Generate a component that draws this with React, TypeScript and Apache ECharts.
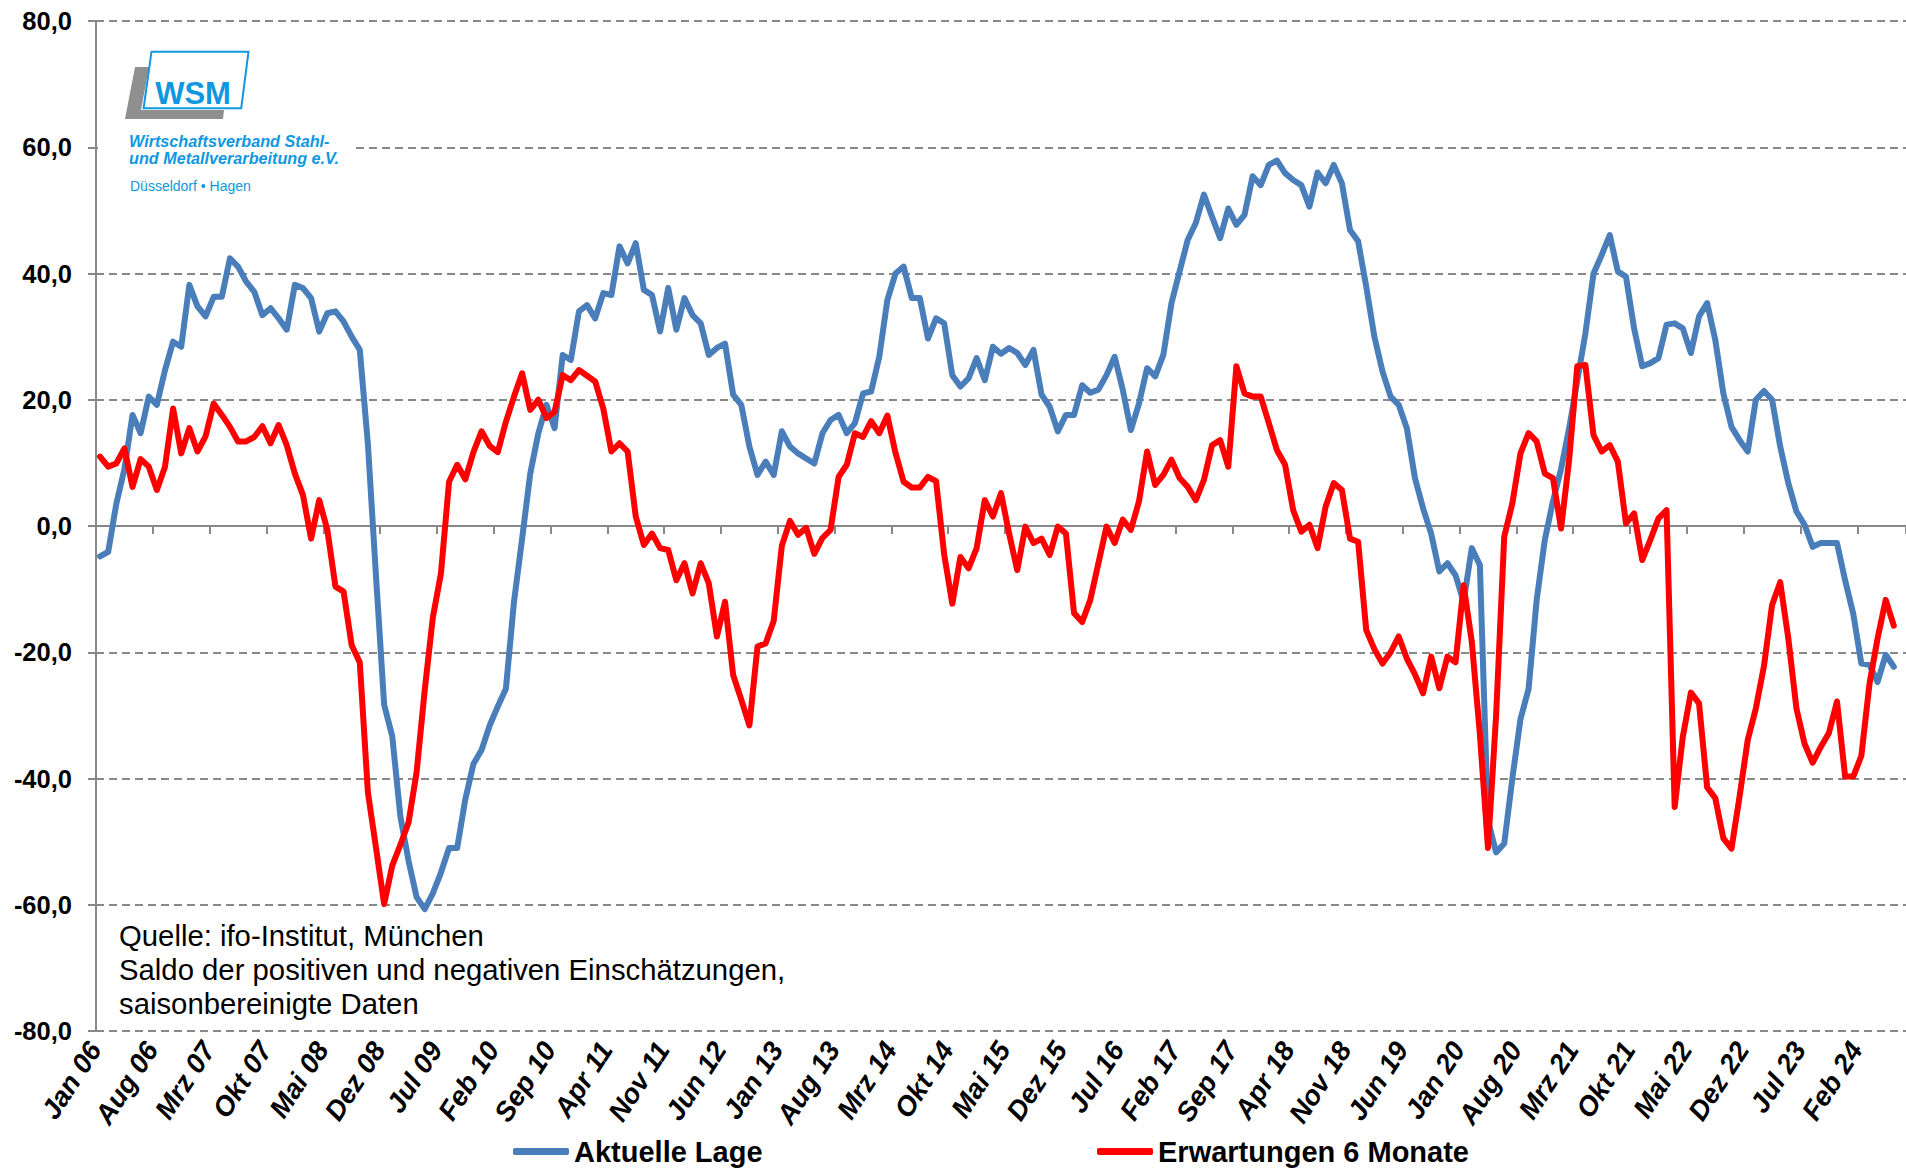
import React, { useEffect, useRef } from "react";
import * as echarts from "echarts";

// ---------- data ----------
const MONTHS = ["Jan", "Feb", "Mrz", "Apr", "Mai", "Jun", "Jul", "Aug", "Sep", "Okt", "Nov", "Dez"];
const FIRST_YEAR = 2006;
const CATEGORY_COUNT = 223;
const categories: string[] = [];
for (let i = 0; i < CATEGORY_COUNT; i++) {
  const yy = String((FIRST_YEAR + Math.floor(i / 12)) % 100).padStart(2, "0");
  categories.push(MONTHS[i % 12] + " " + yy);
}

const SERIES_NAMES = ["Aktuelle Lage", "Erwartungen 6 Monate"];

const aktuelleLage = [
  -4.8, -4.1, 3.5, 9.0, 17.6, 14.7, 20.5, 19.2, 24.7, 29.2,
  28.4, 38.2, 34.8, 33.2, 36.3, 36.3, 42.4, 41.1, 38.7, 37.1,
  33.4, 34.5, 32.9, 31.1, 38.2, 37.7, 36.1, 30.8, 33.7, 34.0,
  32.4, 30.0, 27.9, 13.0, -8.0, -28.3, -33.3, -46.0, -53.0, -58.8,
  -60.7, -58.2, -54.9, -51.0, -51.0, -43.3, -37.7, -35.5, -31.6, -28.6,
  -25.8, -12.0, -2.0, 8.3, 14.7, 19.2, 15.5, 27.1, 26.3, 34.0,
  35.0, 32.9, 36.9, 36.6, 44.3, 41.6, 44.8, 37.4, 36.6, 30.8,
  37.7, 31.1, 36.1, 33.4, 32.1, 27.1, 28.2, 28.9, 20.8, 19.2,
  12.6, 8.1, 10.2, 8.1, 15.0, 12.6, 11.5, 10.7, 9.9, 14.7,
  16.8, 17.6, 14.7, 16.3, 21.0, 21.3, 26.8, 35.8, 40.0, 41.1,
  36.1, 36.1, 29.7, 32.9, 32.1, 23.9, 22.1, 23.4, 26.6, 23.1,
  28.4, 27.3, 28.2, 27.4, 25.5, 27.9, 20.8, 18.9, 15.0, 17.6,
  17.6, 22.3, 21.1, 21.6, 23.9, 26.8, 21.6, 15.2, 19.4, 25.0,
  23.7, 27.1, 35.3, 40.3, 45.3, 48.0, 52.5, 49.0, 45.6, 50.3,
  47.7, 49.3, 55.4, 54.0, 57.2, 57.9, 55.9, 54.8, 54.0, 50.6,
  56.0, 54.3, 57.2, 54.3, 46.9, 45.1, 37.9, 30.0, 24.5, 20.5,
  19.2, 15.5, 7.6, 2.8, -1.2, -7.2, -5.9, -7.8, -12.0, -3.5,
  -6.2, -46.7, -51.7, -50.3, -40.0, -30.6, -25.8, -11.7, -2.2, 3.9,
  9.0, 15.5, 23.0, 30.5, 40.0, 42.9, 46.1, 40.3, 39.5, 31.3,
  25.3, 25.8, 26.6, 31.9, 32.1, 31.3, 27.4, 33.2, 35.3, 29.5,
  21.0, 15.7, 13.6, 11.8, 20.0, 21.4, 20.0, 12.6, 6.8, 2.3,
  0.2, -3.3, -2.7, -2.7, -2.7, -8.6, -13.9, -21.8, -22.0, -24.7,
  -20.4, -22.3,
];

const erwartungen = [
  11.0, 9.4, 9.9, 12.3, 6.2, 10.6, 9.4, 5.7, 9.4, 18.6,
  11.5, 15.5, 11.8, 14.2, 19.4, 17.6, 15.7, 13.4, 13.4, 14.1,
  15.8, 13.1, 16.0, 12.8, 8.3, 4.9, -2.0, 4.1, -0.6, -9.6,
  -10.4, -18.9, -21.6, -42.2, -51.0, -59.9, -53.8, -50.5, -47.0, -39.0,
  -26.0, -14.5, -7.5, 7.0, 9.7, 7.4, 11.7, 15.0, 12.7, 11.7,
  16.5, 20.5, 24.2, 18.4, 20.0, 17.1, 18.1, 23.9, 23.1, 24.7,
  23.8, 22.9, 18.6, 11.8, 13.1, 11.8, 1.5, -3.0, -1.2, -3.5,
  -3.8, -8.6, -5.9, -10.7, -5.9, -9.1, -17.5, -12.0, -23.6, -27.5,
  -31.6, -19.1, -18.6, -15.0, -3.1, 0.8, -1.4, -0.3, -4.4, -1.9,
  -0.6, 7.8, 9.7, 14.7, 14.1, 16.6, 14.7, 17.5, 11.6, 7.0,
  6.1, 6.1, 7.8, 7.1, -4.5, -12.3, -4.9, -6.7, -3.5, 4.1,
  1.5, 5.2, -1.2, -7.0, -0.1, -2.7, -2.0, -4.6, -0.1, -1.2,
  -13.8, -15.2, -11.7, -5.9, -0.1, -2.7, 1.0, -0.6, 3.9, 11.8,
  6.5, 8.1, 10.5, 7.6, 6.2, 4.1, 7.3, 12.8, 13.6, 9.4,
  25.3, 21.0, 20.5, 20.5, 16.3, 12.0, 9.7, 2.5, -0.9, 0.2,
  -3.5, 3.1, 6.8, 5.7, -2.0, -2.5, -16.5, -19.5, -21.8, -20.0,
  -17.5, -21.0, -23.5, -26.5, -20.7, -25.7, -20.7, -21.6, -9.4, -18.3,
  -33.0, -51.0, -30.0, -1.7, 3.6, 11.5, 14.7, 13.4, 8.3, 7.6,
  -0.4, 10.5, 25.3, 25.5, 14.4, 11.8, 12.8, 10.2, 0.4, 2.0,
  -5.4, -2.2, 1.2, 2.5, -44.5, -33.4, -26.4, -28.1, -41.4, -43.1,
  -49.5, -51.1, -42.8, -33.9, -28.9, -22.2, -12.5, -8.9, -17.8, -28.9,
  -34.5, -37.5, -35.0, -32.8, -27.8, -39.7, -39.7, -36.4, -25.0, -17.8,
  -11.7, -15.8,
];

const Y_MIN = -80;
const Y_MAX = 80;
const Y_STEP = 20;
const LABEL_EVERY = 7;

const NOTE_LINES = [
  "Quelle: ifo-Institut, München",
  "Saldo der positiven und negativen Einschätzungen,",
  "saisonbereinigte Daten",
];
const LOGO_MARK = "WSM";
const LOGO_LINES = ["Wirtschaftsverband Stahl-", "und Metallverarbeitung e.V.", "Düsseldorf • Hagen"];

// ---------- styles ----------
const FONT = "'Liberation Sans', Arial, Helvetica, sans-serif";
const GRID_COLOR = "#888888";
const BLUE = "#4a7ebb";
const RED = "#ff0000";
const LOGO_BLUE = "#0f97df";
const LOGO_GRAY = "#8f8f8f";

function buildOption() {
  const textEl = (text: string, x: number, y: number, size: number, extra: any = {}) => ({
    type: "text",
    x,
    y,
    z: 20,
    style: {
      text,
      fontFamily: FONT,
      fontSize: size,
      fill: "#000",
      align: "left",
      verticalAlign: "middle",
      textAlign: "left",
      textVerticalAlign: "middle",
      ...extra,
    },
  });

  return {
    animation: false,
    backgroundColor: "#ffffff",
    grid: { left: 96, right: 0, top: 21, bottom: 138, containLabel: false },
    xAxis: [
      {
        type: "category",
        data: categories,
        boundaryGap: true,
        position: "bottom",
        axisLine: { show: false, onZero: false },
        axisTick: { show: false },
        splitLine: { show: false },
        axisLabel: {
          interval: LABEL_EVERY - 1,
          rotate: 57,
          margin: 5,
          padding: [0, 10, 0, 0],
          color: "#000",
          fontFamily: FONT,
          fontSize: 27.5,
          fontWeight: "bold",
          fontStyle: "italic",
        },
      },
      {
        type: "category",
        data: categories,
        boundaryGap: true,
        position: "bottom",
        axisLine: { show: true, onZero: true, lineStyle: { color: GRID_COLOR, width: 2 } },
        axisTick: { show: true, interval: LABEL_EVERY - 1, length: 8, lineStyle: { color: GRID_COLOR, width: 2 } },
        axisLabel: { show: false, interval: LABEL_EVERY - 1 },
        splitLine: { show: false },
      },
    ],
    yAxis: {
      type: "value",
      min: Y_MIN,
      max: Y_MAX,
      interval: Y_STEP,
      axisLine: { show: true, lineStyle: { color: GRID_COLOR, width: 2 } },
      axisTick: { show: true, length: 8, lineStyle: { color: GRID_COLOR, width: 2 } },
      axisLabel: {
        formatter: (v: number) => v.toFixed(1).replace(".", ","),
        margin: 24,
        color: "#000",
        fontFamily: FONT,
        fontSize: 25.5,
        fontWeight: "bold",
      },
      splitLine: { show: true, lineStyle: { color: GRID_COLOR, width: 2, type: [8, 5] } },
    },
    legend: [
      {
        data: [SERIES_NAMES[0]],
        left: 513,
        top: 1137,
        padding: 0,
        icon: "roundRect",
        itemWidth: 56,
        itemHeight: 7,
        selectedMode: false,
        textStyle: { fontFamily: FONT, fontSize: 29, fontWeight: "bold", color: "#000" },
      },
      {
        data: [SERIES_NAMES[1]],
        left: 1097,
        top: 1137,
        padding: 0,
        icon: "roundRect",
        itemWidth: 56,
        itemHeight: 7,
        selectedMode: false,
        textStyle: { fontFamily: FONT, fontSize: 29, fontWeight: "bold", color: "#000" },
      },
    ],
    series: [
      {
        name: SERIES_NAMES[0],
        type: "line",
        data: aktuelleLage,
        xAxisIndex: 0,
        yAxisIndex: 0,
        showSymbol: false,
        symbol: "none",
        z: 3,
        lineStyle: { color: BLUE, width: 6, join: "round", cap: "round" },
        itemStyle: { color: BLUE },
      },
      {
        name: SERIES_NAMES[1],
        type: "line",
        data: erwartungen,
        xAxisIndex: 0,
        yAxisIndex: 0,
        showSymbol: false,
        symbol: "none",
        z: 4,
        lineStyle: { color: RED, width: 6, join: "round", cap: "round" },
        itemStyle: { color: RED },
      },
    ],
    graphic: [
      // white background of the logo (covers gridline)
      { type: "rect", z: 10, shape: { x: 98, y: 36, width: 257, height: 165 }, style: { fill: "#ffffff" } },
      // grey L
      {
        type: "polygon",
        z: 11,
        shape: { points: [[135, 67], [149, 67], [141, 110], [224, 110], [223, 119], [125, 119]] },
        style: { fill: LOGO_GRAY },
      },
      // blue framed box
      {
        type: "polygon",
        z: 12,
        shape: { points: [[151.5, 51.7], [248.5, 51.7], [241.2, 108.3], [143.6, 108.3]] },
        style: { fill: "#ffffff", stroke: LOGO_BLUE, lineWidth: 2 },
      },
      textEl(LOGO_MARK, 193, 93, 31, { fill: LOGO_BLUE, fontWeight: "bold", align: "center", textAlign: "center" }),
      textEl(LOGO_LINES[0], 129, 141, 16.2, { fill: LOGO_BLUE, fontWeight: "bold", fontStyle: "italic" }),
      textEl(LOGO_LINES[1], 129, 158, 16.2, { fill: LOGO_BLUE, fontWeight: "bold", fontStyle: "italic" }),
      textEl(LOGO_LINES[2], 130, 186, 14, { fill: LOGO_BLUE }),
      // source note
      textEl(NOTE_LINES[0], 119, 935, 29.3),
      textEl(NOTE_LINES[1], 119, 969, 29.3),
      textEl(NOTE_LINES[2], 119, 1003, 29.3),
    ],
  };
}

export default function App() {
  const ref = useRef<HTMLDivElement>(null);
  useEffect(() => {
    if (!ref.current) return;
    const chart = echarts.init(ref.current, undefined, { renderer: "svg" });
    chart.setOption(buildOption() as any);
    return () => chart.dispose();
  }, []);
  return (
    <div
      ref={ref}
      style={{ position: "absolute", left: 0, top: 0, width: 1906, height: 1169, background: "#ffffff" }}
    />
  );
}
